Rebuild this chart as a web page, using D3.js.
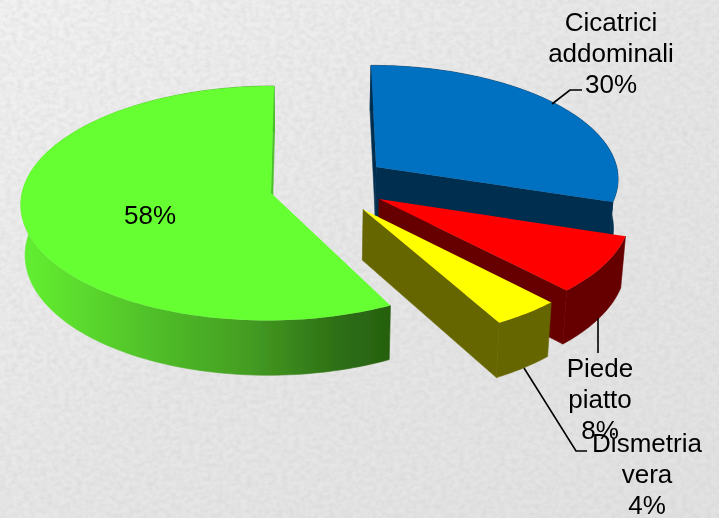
<!DOCTYPE html>
<html><head><meta charset="utf-8">
<script src="https://cdn.jsdelivr.net/npm/d3@7"></script>
<style>html,body{margin:0;padding:0;background:#e2e2e2;overflow:hidden}svg{display:block}text{font-family:"Liberation Sans",Arial,sans-serif;fill:#000}</style>
</head><body><svg id="c" width="719" height="518"></svg>
<script>
// Data
const categories = ["Cicatrici addominali", "Piede piatto", "Dismetria vera", "Altro"];
const values = [30, 8, 4, 58];
const topColors = ["#0070c0", "#ff0000", "#ffff00", "#66ff33"];
const wallColors = ["#002f50", "#660000", "#666600", "url(#greenWall)"];
const faceColors = ["#002f50", "#660000", "#666600", "#4cc02a"];
// Layout: explosion of each slice on the pie plane (in radius units)
const explodeX = [0.2753, 0.280, 0.2146, -0.1526];
const explodeY = [-0.2276, 0.0513, 0.14, 0];
const radii = [0.985, 1, 1, 1];
const startTrim = [0, 0, 0, 0.031];
const labelLines = [["Cicatrici","addominali","30%"],["Piede","piatto","8%"],["Dismetria","vera","4%"],["58%"]];
const labelX = [611, 600, 647, 150];
const labelY = [31, 377, 452, 224];
const leaders = [[[552,104],[570,90],[582,90]],[[598,318],[598,353]],[[524,368],[576,451],[587,451]]];

// Perspective camera
const W=719,H=518, Vx=309, Hy=-1143, B=1336, k=0.0871, C=249, depth=50, shrink=0.985;
const rScale=d3.scaleLinear().domain([0,1]).range([0,1]);
function proj(wx,wy,bottom){
  const d=1-k*wy; let sx=wx*C/d, sy=Hy+B/d;
  if(bottom){sx*=shrink; sy+=depth/d;}
  return [Vx+sx,sy];
}
const svg=d3.select("#c");
const defs=svg.append("defs");
const f=defs.append("filter").attr("id","paper").attr("x",0).attr("y",0).attr("width","100%").attr("height","100%");
f.append("feTurbulence").attr("type","fractalNoise").attr("baseFrequency","0.17 0.22").attr("numOctaves",3).attr("seed",4);
f.append("feColorMatrix").attr("type","matrix").attr("values","0 0 0 0 0.55  0 0 0 0 0.55  0 0 0 0 0.55  0.55 0 0 0 -0.17");
const soft=defs.append("filter").attr("id","soft");
soft.append("feGaussianBlur").attr("stdDeviation",0.45);
const bg=defs.append("linearGradient").attr("id","bg").attr("x1",0).attr("y1",0).attr("x2",1).attr("y2",1);
[[0,"#f2f2f2"],[0.5,"#e7e7e7"],[1,"#e2e2e2"]].forEach(s=>bg.append("stop").attr("offset",s[0]).attr("stop-color",s[1]));
const g=defs.append("linearGradient").attr("id","greenWall").attr("gradientUnits","userSpaceOnUse").attr("x1",21).attr("x2",391).attr("y1",0).attr("y2",0);
[[0,"#62f030"],[0.15,"#5cdc2e"],[0.35,"#50c029"],[0.62,"#449c22"],[0.85,"#2e7016"],[1,"#26600f"]].forEach(s=>g.append("stop").attr("offset",s[0]).attr("stop-color",s[1]));

svg.append("rect").attr("width",W).attr("height",H).attr("fill","url(#bg)");
svg.append("rect").attr("width",W).attr("height",H).attr("filter","url(#paper)");

const pie=d3.pie().sort(null).value(d=>d);
const arcs=pie(values);
const line=d3.line();
const chart=svg.append("g").attr("filter","url(#soft)");
arcs.forEach((a,i)=>{
  const cx=explodeX[i], cy=explodeY[i], r=rScale(radii[i]);
  const t0=a.startAngle+startTrim[i], t1=a.endAngle;
  const pt=(t,b)=>proj(cx+r*Math.sin(t),cy-r*Math.cos(t),b);
  const n=Math.max(12,Math.ceil((t1-t0)*40));
  const ts=d3.range(n+1).map(j=>t0+(t1-t0)*j/n);
  const cT=proj(cx,cy,false), cB=proj(cx,cy,true);
  const grp=chart.append("g").attr("class","slice");
  // outer wall
  grp.append("path").attr("d",line(ts.map(t=>pt(t,false)).concat(ts.slice().reverse().map(t=>pt(t,true))))+"Z")
    .attr("fill",wallColors[i]).attr("stroke",wallColors[i]).attr("stroke-width",0.6);
  // radial faces, only when they turn towards the viewer
  const face=t=>[cT,pt(t,false),pt(t,true),cB];
  [[t0,-1],[t1,1]].forEach(([t,sign])=>{
    const q=face(t), area=d3.sum(q,(p,j)=>{const n2=q[(j+1)%4];return p[0]*n2[1]-n2[0]*p[1];});
    if(area*sign>0) grp.append("path").attr("d",line(q)+"Z").attr("fill",faceColors[i]).attr("stroke",faceColors[i]).attr("stroke-width",0.6);
  });
  // top
  grp.append("path").attr("d",line([cT].concat(ts.map(t=>pt(t,false))))+"Z").attr("fill",topColors[i]);
});
const over=svg.append("g").attr("filter","url(#soft)");
over.append("g").selectAll("path").data(leaders).join("path").attr("d",d=>line(d)).attr("fill","none").attr("stroke","#000").attr("stroke-width",1.6);
const lab=over.append("g").attr("font-size",26).attr("text-anchor","middle");
labelLines.forEach((ls,i)=>ls.forEach((s,j)=>lab.append("text").attr("x",labelX[i]).attr("y",labelY[i]+j*31).text(s)));
</script></body></html>
